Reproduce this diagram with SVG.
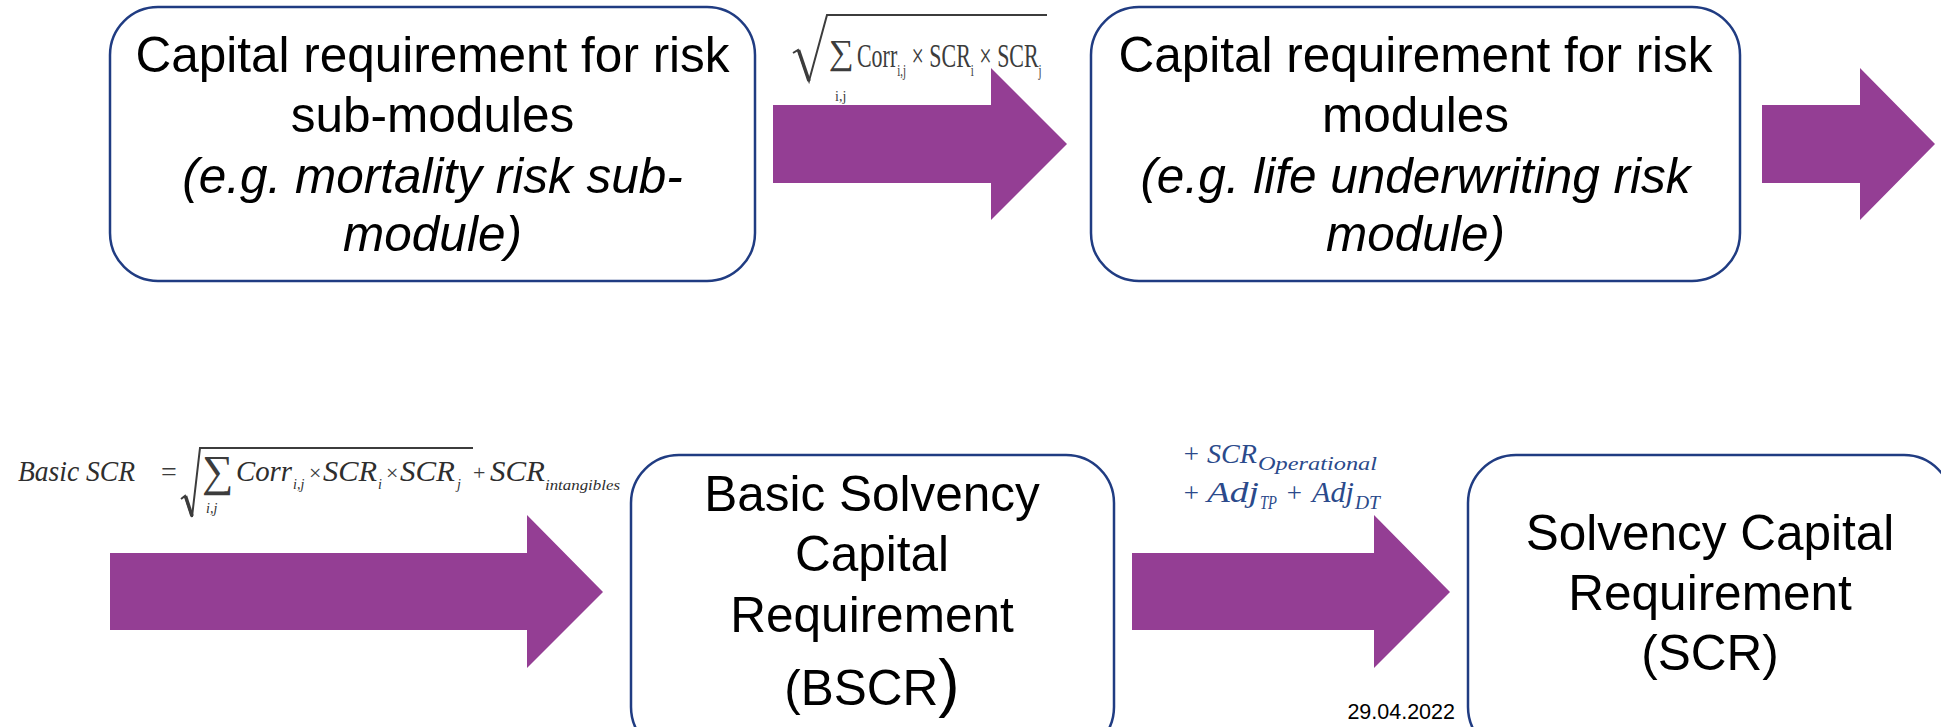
<svg xmlns="http://www.w3.org/2000/svg" width="1941" height="727" viewBox="0 0 1941 727">
<style>
.box{fill:#fff;stroke:#203C82;stroke-width:2.5}
.arrow{fill:#943E94}
.lbl{font-family:"Liberation Sans",Arial,sans-serif;font-size:49.5px;fill:#000;text-anchor:middle}
.it{font-style:italic}
.f1{font-family:"Liberation Serif","Times New Roman",serif;fill:#3c3c3c}
.f3{font-family:"Liberation Serif","Times New Roman",serif;fill:#2e2e2e;font-style:italic}
.f2{font-family:"Liberation Serif","Cambria Math",serif;fill:#2B4A8B;font-style:italic}
.rad{fill:none;stroke:#3c3c3c;stroke-width:2;stroke-linejoin:miter}
.radk{fill:none;stroke:#3c3c3c;stroke-width:3.5;stroke-linecap:butt}
.date{font-family:"Liberation Sans",Arial,sans-serif;font-size:21.5px;fill:#000;text-anchor:end}
</style>
<rect width="1941" height="727" fill="#fff"/>

<g id="connectors">
  <polygon class="arrow" points="773,105 991,105 991,68 1067,144 991,220 991,183 773,183"/>
  <polygon class="arrow" points="1762,105 1860,105 1860,68 1935,144 1860,220 1860,183 1762,183"/>
  <polygon class="arrow" points="110,553 527,553 527,515 603,592 527,668 527,630 110,630"/>
  <polygon class="arrow" points="1132,553 1374,553 1374,515 1450,592 1374,668 1374,630 1132,630"/>
</g>

<g id="formula-modules">
  <polyline class="rad" points="793,53 798,50 809,81 827,15 1047,15"/>
  <line class="radk" x1="798.5" y1="50" x2="809" y2="81"/>
  <text class="f1" x="829" y="64" font-size="35">∑</text>
  <text class="f1" x="835" y="101" font-size="14">i,j</text>
  <text class="f1" font-size="34" transform="translate(857,67) scale(0.645,1)">Corr<tspan font-size="17" dy="9">i,j</tspan><tspan dy="-9"> × SCR</tspan><tspan font-size="17" dy="9">i</tspan><tspan dy="-9"> × SCR</tspan><tspan font-size="17" dy="9">j</tspan></text>
</g>

<g id="formula-bscr">
  <text class="f3" x="18" y="481" font-size="29" textLength="117" lengthAdjust="spacingAndGlyphs">Basic SCR</text>
  <text class="f1" x="161" y="481" font-size="28" fill="#2e2e2e">=</text>
  <polyline class="rad" points="181,499 185,496 192,517 200,448 473,448"/>
  <line class="radk" x1="185.5" y1="496" x2="192" y2="516"/>
  <text class="f1" x="202" y="486" font-size="44" fill="#2e2e2e">∑</text>
  <text class="f3" x="206" y="513" font-size="14">i,j</text>
  <text class="f3" x="236" y="481" font-size="29" textLength="56" lengthAdjust="spacingAndGlyphs">Corr</text>
  <text class="f3" x="293" y="489" font-size="14">i,j</text>
  <text class="f1" x="309" y="480" font-size="22" fill="#2e2e2e">×</text>
  <text class="f3" x="323" y="481" font-size="29" textLength="54" lengthAdjust="spacingAndGlyphs">SCR</text>
  <text class="f3" x="378" y="489" font-size="14">i</text>
  <text class="f1" x="386" y="480" font-size="22" fill="#2e2e2e">×</text>
  <text class="f3" x="400" y="481" font-size="29" textLength="55" lengthAdjust="spacingAndGlyphs">SCR</text>
  <text class="f3" x="457" y="489" font-size="14">j</text>
  <text class="f1" x="473" y="480" font-size="22" fill="#2e2e2e">+</text>
  <text class="f3" x="490" y="481" font-size="29" textLength="55" lengthAdjust="spacingAndGlyphs">SCR</text>
  <text class="f3" x="545" y="490" font-size="14" textLength="75" lengthAdjust="spacingAndGlyphs">intangibles</text>
</g>

<g id="formula-scr">
  <text class="f2" x="1182" y="463" font-size="27" font-style="normal">+</text>
  <text class="f2" x="1207" y="463" font-size="28" textLength="50" lengthAdjust="spacingAndGlyphs">SCR</text>
  <text class="f2" x="1258" y="470" font-size="19" textLength="119" lengthAdjust="spacingAndGlyphs">Operational</text>
  <text class="f2" x="1182" y="502" font-size="27" font-style="normal">+</text>
  <text class="f2" x="1207" y="502" font-size="29" textLength="52" lengthAdjust="spacingAndGlyphs">Adj</text>
  <text class="f2" x="1260" y="509" font-size="19" textLength="17" lengthAdjust="spacingAndGlyphs">TP</text>
  <text class="f2" x="1285" y="502" font-size="27" font-style="normal">+</text>
  <text class="f2" x="1312" y="502" font-size="29" textLength="42" lengthAdjust="spacingAndGlyphs">Adj</text>
  <text class="f2" x="1355" y="509" font-size="19" textLength="25" lengthAdjust="spacingAndGlyphs">DT</text>
</g>

<g id="node-submodules">
  <rect class="box" x="110" y="7" width="645" height="274" rx="48" ry="48"/>
  <text class="lbl" x="432.5" y="72">Capital requirement for risk</text>
  <text class="lbl" x="432.5" y="132">sub-modules</text>
  <text class="lbl it" x="432.5" y="193">(e.g. mortality risk sub-</text>
  <text class="lbl it" x="432.5" y="251">module)</text>
</g>

<g id="node-modules">
  <rect class="box" x="1091" y="7" width="649" height="274" rx="48" ry="48"/>
  <text class="lbl" x="1415.5" y="72">Capital requirement for risk</text>
  <text class="lbl" x="1415.5" y="132">modules</text>
  <text class="lbl it" x="1415.5" y="193">(e.g. life underwriting risk</text>
  <text class="lbl it" x="1415.5" y="251">module)</text>
</g>

<g id="node-bscr">
  <rect class="box" x="631" y="455" width="483" height="300" rx="48" ry="48"/>
  <text class="lbl" x="872" y="511">Basic Solvency</text>
  <text class="lbl" x="872" y="571">Capital</text>
  <text class="lbl" x="872" y="632">Requirement</text>
  <text class="lbl" x="872" y="705">(BSCR<tspan font-size="64">)</tspan></text>
</g>

<g id="node-scr">
  <rect class="box" x="1468" y="455" width="484" height="300" rx="48" ry="48"/>
  <text class="lbl" x="1710" y="550">Solvency Capital</text>
  <text class="lbl" x="1710" y="610">Requirement</text>
  <text class="lbl" x="1710" y="670">(SCR)</text>
</g>

<text id="date" class="date" x="1455" y="719">29.04.2022</text>
</svg>
